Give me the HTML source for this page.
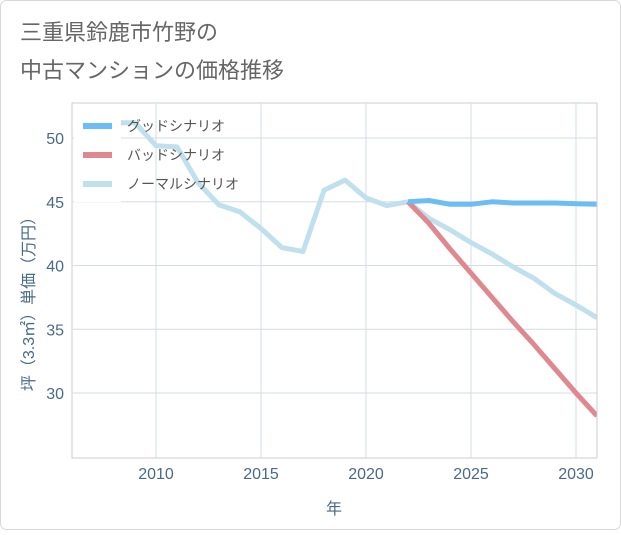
<!DOCTYPE html>
<html><head><meta charset="utf-8"><style>
body{margin:0;background:#fff;}
#wrap{position:relative;width:621px;height:530px;font-family:"Liberation Sans","Noto Sans CJK JP",sans-serif;}
</style></head><body>
<div id="wrap">
<svg id="svg" width="621" height="530" xmlns="http://www.w3.org/2000/svg">
<rect x="0.5" y="0.5" width="620" height="529" rx="6" fill="#fff" stroke="#d8d8d8"/>
<text x="20" y="40" font-size="22" fill="#666" font-family="Liberation Sans, Noto Sans CJK JP, sans-serif">三重県鈴鹿市竹野の</text>
<text x="20" y="78" font-size="22" fill="#666" font-family="Liberation Sans, Noto Sans CJK JP, sans-serif">中古マンションの価格推移</text>
<g id="grid"></g>
<g id="series"></g>
<g id="legend"></g>
</svg>
</div>
<script>
const years=[2008,2009,2010,2011,2012,2013,2014,2015,2016,2017,2018,2019,2020,2021,2022];
const normalHist=[51.2,51.2,49.4,49.3,46.5,44.75,44.2,42.9,41.4,41.1,45.9,46.7,45.3,44.7,45.0];
const futureYears=[2022,2023,2024,2025,2026,2027,2028,2029,2030,2031];
const goodVals=[45.0,45.1,44.8,44.8,45.0,44.9,44.9,44.9,44.85,44.8];
const badVals=[45.0,43.3,41.3,39.4,37.5,35.6,33.8,31.9,30.0,28.2];
const normalFuture=[45.0,43.7,42.8,41.8,40.9,39.9,39.0,37.8,36.9,35.9];
const xTicks=[2010,2015,2020,2025,2030];
const yTicks=[30,35,40,45,50];
const NS="http://www.w3.org/2000/svg";
const L=72,R=597,T=103,B=458;
const xs=y=>L+(y-2006)*21;
const ys=v=>138+(50-v)*12.75;
function mk(tag,attrs,parent){const e=document.createElementNS(NS,tag);for(const k in attrs)e.setAttribute(k,attrs[k]);parent.appendChild(e);return e;}
const grid=document.getElementById('grid'),ser=document.getElementById('series'),leg=document.getElementById('legend');
const pb=mk('rect',{x:L,y:T,width:R-L,height:B-T,fill:'none',stroke:'#ccc'},grid);


xTicks.forEach(t=>{const l=mk('line',{x1:xs(t),x2:xs(t),y1:T,y2:B,stroke:'#d3dde6'},grid);


const tx=mk('text',{x:xs(t),y:479,'font-size':16,fill:'#4a6a8a','text-anchor':'middle'},grid);tx.textContent=t;

});
yTicks.forEach(t=>{const l=mk('line',{x1:L,x2:R,y1:ys(t),y2:ys(t),stroke:'#d3dde6'},grid);


const tx=mk('text',{x:64,y:ys(t)+6,'font-size':16,fill:'#4a6a8a','text-anchor':'end'},grid);tx.textContent=t;

});
const xt=mk('text',{x:334,y:514,'font-size':16,fill:'#4a6a8a','text-anchor':'middle'},grid);xt.textContent='年';


const yt=mk('text',{x:0,y:0,'font-size':16,fill:'#4a6a8a','text-anchor':'middle',transform:'translate(34,300) rotate(-90)'},grid);yt.textContent='坪（3.3㎡）単価（万円）';


function line(xv,yv,color,name){const d=xv.map((x,i)=>(i?'L':'M')+xs(x).toFixed(1)+','+ys(yv[i]).toFixed(1)).join(' ');
const p=mk('path',{d:d,fill:'none',stroke:color,'stroke-width':5,'stroke-linejoin':'round'},ser);

}
line(years,normalHist,'#bfe0ec','normal-scenario-history-line');
line(futureYears,normalFuture,'#bfe0ec','normal-scenario-line');
line(futureYears,badVals,'#e08890','bad-scenario-line');
line(futureYears,goodVals,'#6cbdf5','good-scenario-line');
const clip=mk('rect',{x:R,y:T-2,width:10,height:B-T+4,fill:'#fff'},ser);


mk('line',{x1:R,x2:R,y1:T,y2:B,stroke:'#ccc'},ser);
const lbg=mk('rect',{x:74,y:106,width:47,height:96,fill:'#fff'},leg);


[['グッドシナリオ','#6cbdf5'],['バッドシナリオ','#e08890'],['ノーマルシナリオ','#bfe0ec']].forEach((e,i)=>{const y=126+i*29;
const g=mk('g',{},leg);


mk('line',{x1:83,x2:112,y1:y,y2:y,stroke:e[1],'stroke-width':6},g);
const t=mk('text',{x:127,y:y+5,'font-size':14,fill:'#555'},g);t.textContent=e[0];});
</script>
</body></html>
